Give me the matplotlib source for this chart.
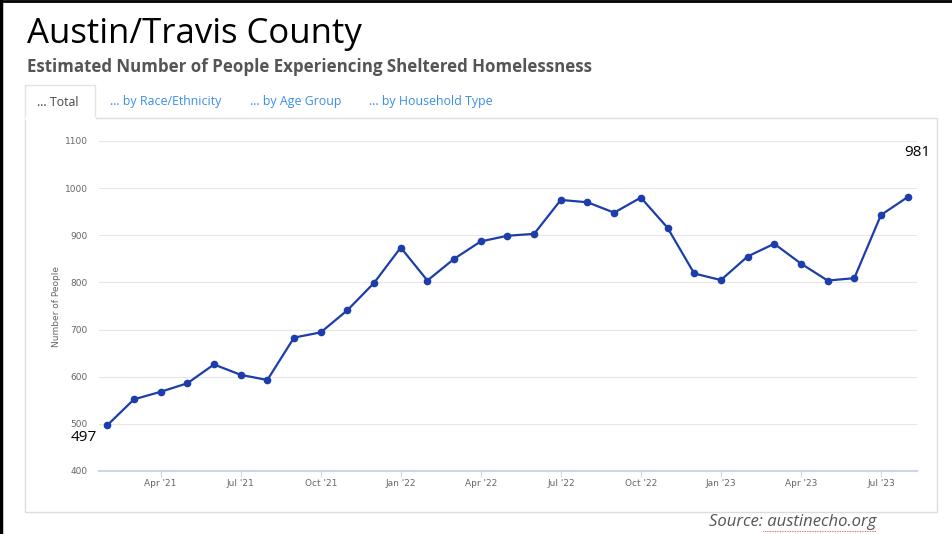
import numpy as np
import matplotlib.pyplot as plt
from matplotlib.patches import Rectangle

# monthly estimates, Feb 2021 .. Aug 2023
months = ['Feb 21', 'Mar 21', 'Apr 21', 'May 21', 'Jun 21', 'Jul 21', 'Aug 21', 'Sep 21', 'Oct 21', 'Nov 21', 'Dec 21',
          'Jan 22', 'Feb 22', 'Mar 22', 'Apr 22', 'May 22', 'Jun 22', 'Jul 22', 'Aug 22', 'Sep 22', 'Oct 22', 'Nov 22', 'Dec 22',
          'Jan 23', 'Feb 23', 'Mar 23', 'Apr 23', 'May 23', 'Jun 23', 'Jul 23', 'Aug 23']
people = [497, 552, 568, 586, 626, 604, 593, 683, 694, 741, 799,
          874, 804, 850, 887, 899, 903, 975, 970, 948, 980, 916, 819,
          805, 855, 882, 840, 804, 809, 943, 981]
tick_idx = [2, 5, 8, 11, 14, 17, 20, 23, 26, 29]
tick_labels = ["Apr '21", "Jul '21", "Oct '21", "Jan '22", "Apr '22", "Jul '22", "Oct '22", "Jan '23", "Apr '23", "Jul '23"]
yticks = [400, 500, 600, 700, 800, 900, 1000, 1100]
tabs = ['… Total', '… by Race/Ethnicity', '… by Age Group', '… by Household Type']

W, H = 953, 534
fig = plt.figure(figsize=(W / 100, H / 100), dpi=100)

# overlay in pixel coords for the page decorations
bg = fig.add_axes([0, 0, 1, 1])
bg.set_xlim(0, W)
bg.set_ylim(H, 0)
bg.axis('off')
bg.plot([1.5, 1.5], [0, H], color='black', lw=2.5)
bg.plot([0, W], [1, 1], color='black', lw=2)
bg.add_patch(Rectangle((25, 118), 912, 394, fill=False, ec='#dcdcdc', lw=1))
bg.plot([25, 25, 95, 95], [118, 85, 85, 118], color='#e3e3e3', lw=1)
bg.plot([26, 94], [118, 118], color='white', lw=2)

fig.text(27 / W, 1 - 34 / H, 'Austin/Travis County', fontsize=25, family='Open Sans',
         va='center', ha='left', color='black')
fig.text(27 / W, 1 - 67 / H, 'Estimated Number of People Experiencing Sheltered Homelessness',
         fontsize=12.2, family='Open Sans', weight='bold', va='center', ha='left', color='#555555')
tab_x = [37, 110, 250, 369]
for i, t in enumerate(tabs):
    fig.text(tab_x[i] / W, 1 - 102 / H, t, fontsize=8.9, family='Open Sans', va='center', ha='left',
             color='#444444' if i == 0 else '#3a8ee6')
fig.text(876 / W, 1 - 522 / H, 'Source: austinecho.org', fontsize=12, family='Open Sans', style='italic',
         va='center', ha='right', color='#555555')
bg.plot([763, 876], [531, 531], color='#d04040', lw=0.6, ls=(0, (1, 1)))

x0, x1, y0, y1 = 99, 916.7, 141, 471
ax = fig.add_axes([x0 / W, 1 - y1 / H, (x1 - x0) / W, (y1 - y0) / H])
x = np.arange(len(people))
ax.plot(x, people, color='#1c3daa', lw=1.6, marker='o', ms=4.5, zorder=3)
ax.set_xlim(-0.31, 30.34)
ax.set_ylim(400, 1100)
ax.set_yticks(yticks)
ax.set_yticklabels([str(v) for v in yticks], fontsize=6.5, color='#666666')
ax.set_xticks(tick_idx)
ax.set_xticklabels(tick_labels, fontsize=6.5, color='#666666')
ax.tick_params(axis='y', length=0, pad=8)
ax.tick_params(axis='x', length=4.5, color='#ccd6eb', pad=1.5, direction='out')
ax.grid(axis='y', color='#e6e6e6', lw=0.8)
ax.set_axisbelow(True)
for s in ['top', 'right', 'left']:
    ax.spines[s].set_visible(False)
ax.spines['bottom'].set_color('#ccd6eb')
ax.spines['bottom'].set_linewidth(1.5)
ax.set_ylabel('Number of People', fontsize=6.5, color='#666666', labelpad=3)

ax.annotate(str(people[0]), (x[0], people[0]), xytext=(-17, -9), textcoords='offset points',
            fontsize=11, family='Open Sans', ha='center', va='center', color='black')
ax.annotate(str(people[-1]), (x[-1], people[-1]), xytext=(7, 32), textcoords='offset points',
            fontsize=11, family='Open Sans', ha='center', va='center', color='black', annotation_clip=False)

fig.savefig('out.png', dpi=100)
